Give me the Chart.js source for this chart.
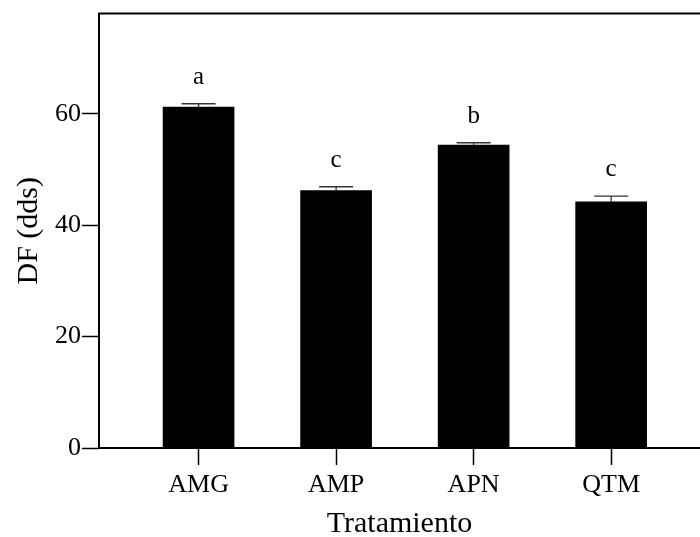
<!DOCTYPE html>
<html>
<head>
<meta charset="utf-8">
<title>DF por tratamiento</title>
<script src="https://cdn.jsdelivr.net/npm/chart.js@4.4.4/dist/chart.umd.min.js"></script>
<style>
  html, body { margin: 0; padding: 0; background: #fff; overflow: hidden; }
  #wrap { width: 700px; height: 537px; }
</style>
</head>
<body>
<div id="wrap"><canvas id="dfChart" width="700" height="537"></canvas></div>
<script>
  // ---- data ----
  const categories = ['AMG', 'AMP', 'APN', 'QTM'];
  const means = [61.2, 46.2, 54.4, 44.2];
  const errors = [0.6, 0.7, 0.4, 1.0];
  const letters = ['a', 'c', 'b', 'c'];
  const yTicks = [0, 20, 40, 60];

  const SERIF = "'Liberation Serif', 'Times New Roman', serif";

  // error bars + significance letters over each bar
  const errorBarPlugin = {
    id: 'errorBars',
    afterDatasetsDraw(chart) {
      const ctx = chart.ctx;
      const xs = chart.scales.x, ys = chart.scales.y;
      ctx.save();
      categories.forEach(function (c, i) {
        const x = xs.getPixelForValue(i);
        const yMean = ys.getPixelForValue(means[i]);
        const yTop = ys.getPixelForValue(means[i] + errors[i]);
        ctx.strokeStyle = '#333';
        ctx.lineWidth = 1.3;
        ctx.beginPath();
        ctx.moveTo(x, yMean);
        ctx.lineTo(x, yTop);
        ctx.moveTo(x - 17, yTop);
        ctx.lineTo(x + 17, yTop);
        ctx.stroke();

        ctx.fillStyle = '#000';
        ctx.font = '25px ' + SERIF;
        ctx.textAlign = 'center';
        ctx.textBaseline = 'alphabetic';
        ctx.fillText(letters[i], x, yTop - 20);
      });
      ctx.restore();
    }
  };

  // top edge of the frame (left and bottom come from the axes)
  const frameTopPlugin = {
    id: 'frameTop',
    afterDraw(chart) {
      const a = chart.chartArea, ctx = chart.ctx;
      ctx.save();
      ctx.strokeStyle = '#000';
      ctx.lineWidth = 2;
      ctx.beginPath();
      ctx.moveTo(a.left - 1, a.top);
      ctx.lineTo(a.right + 2, a.top);
      ctx.stroke();
      ctx.restore();
    }
  };

  new Chart(document.getElementById('dfChart'), {
    type: 'bar',
    data: {
      datasets: [{
        data: categories.map(function (c, i) { return { x: i, y: means[i] }; }),
        backgroundColor: '#000',
        borderWidth: 0,
        barThickness: 71
      }]
    },
    options: {
      responsive: false,
      animation: false,
      layout: { padding: { top: 13.5, left: 0, right: 0, bottom: 0 } },
      plugins: { legend: { display: false }, tooltip: { enabled: false } },
      scales: {
        x: {
          type: 'linear',
          offset: false,
          min: -0.724,
          max: 3.646,
          afterBuildTicks: function (scale) {
            scale.ticks = categories.map(function (c, i) { return { value: i }; });
          },
          afterFit: function (scale) { scale.height = 89; },
          ticks: {
            callback: function (v) { return categories[v]; },
            color: '#000',
            font: { family: SERIF, size: 26 },
            padding: 5,
            maxRotation: 0,
            autoSkip: false
          },
          grid: {
            display: true,
            offset: false,
            drawOnChartArea: false,
            drawTicks: true,
            tickLength: 17,
            tickColor: '#000',
            tickWidth: 1.5
          },
          border: { display: true, color: '#000', width: 2 },
          title: {
            display: true,
            text: 'Tratamiento',
            color: '#000',
            font: { family: SERIF, size: 30, lineHeight: 1 },
            padding: { top: 0, bottom: -2 }
          }
        },
        y: {
          min: 0,
          max: 78,
          afterBuildTicks: function (scale) {
            scale.ticks = yTicks.map(function (v) { return { value: v }; });
          },
          afterFit: function (scale) {
            scale.width = 99;
            scale.paddingTop = 0;
            scale.paddingBottom = 0;
          },
          ticks: {
            color: '#000',
            font: { family: SERIF, size: 26 },
            padding: 1
          },
          grid: {
            display: true,
            drawOnChartArea: false,
            drawTicks: true,
            tickLength: 17,
            tickColor: '#000',
            tickWidth: 1.5
          },
          border: { display: true, color: '#000', width: 2 },
          title: {
            display: true,
            text: 'DF (dds)',
            color: '#000',
            font: { family: SERIF, size: 30 },
            padding: { top: 11, bottom: 0 }
          }
        }
      }
    },
    plugins: [errorBarPlugin, frameTopPlugin]
  });
</script>
</body>
</html>
